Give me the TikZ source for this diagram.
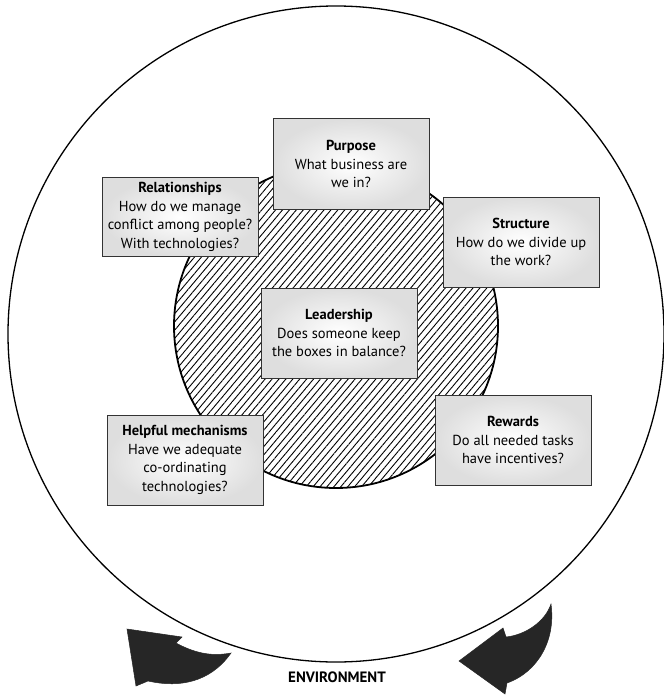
\documentclass[tikz,border=0pt]{standalone}
\usepackage{fontspec}
\setmainfont{PT Sans}
\usetikzlibrary{patterns.meta}

\begin{document}
\begin{tikzpicture}[
    x=1pt,y=-1pt,
    box/.style={draw=black!80,line width=1pt,shading=radial,inner color=white,outer color=black!13,align=center,minimum width=156pt,minimum height=90pt,inner sep=2pt,font=\fontsize{14.5}{18.5}\selectfont},
    ring/.style={draw,line width=1.3pt},
    core/.style={draw,line width=1.8pt,pattern={Lines[angle=50,distance=5.3pt,line width=0.9pt]}},
    swoosh/.style={fill=black!85,draw=black!85,line width=0.5pt},
    tag/.style={font=\fontsize{15}{18}\selectfont\bfseries}
]
\useasboundingbox (0,0) rectangle (663,695);

\draw[ring] (336,334) circle (328pt);
\fill[white] (336,326) circle (162pt);
\draw[core] (336,326) circle (162pt);

\node[box] (purpose) at (351,164) {\textbf{Purpose}\\What business are\\we in?};
\node[box,minimum height=79pt] (relations) at (180,217) {\textbf{Relationships}\\How do we manage\\conflict among people?\\With technologies?};
\node[box] (structure) at (521,242) {\textbf{Structure}\\How do we divide up\\the work?};
\node[box] (leadership) at (339,333) {\textbf{Leadership}\\Does someone keep\\the boxes in balance?};
\node[box] (mechanisms) at (185,460) {\textbf{Helpful mechanisms}\\Have we adequate\\co-ordinating\\technologies?};
\node[box] (rewards) at (513,440) {\textbf{Rewards}\\Do all needed tasks\\have incentives?};

% environment arrows
\draw[swoosh] (127,629) -- (182,637) -- (176,643) .. controls (198,655) and (215,656) .. (231,653)
    .. controls (215,676) and (188,690) .. (148,681) -- (136,686) -- cycle;
\draw[swoosh] (459,661) -- (503,628) -- (506,637) .. controls (525,635) and (545,622) .. (551,604)
    .. controls (556,640) and (538,672) .. (507,683) -- (505,694) -- cycle;
\node[tag] (environment) at (337,677) {ENVIRONMENT};
\end{tikzpicture}
\end{document}
